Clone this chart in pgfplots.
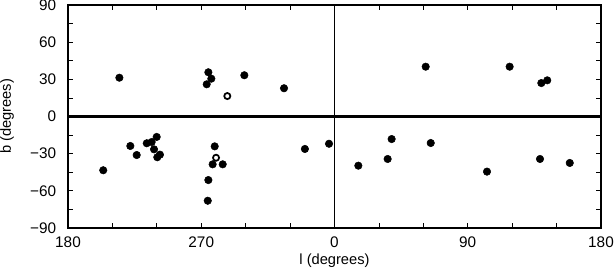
\documentclass[border=0pt]{standalone}
\usepackage{fontspec}
\setmainfont{Liberation Sans}
\usepackage{pgfplots}
\pgfplotsset{compat=1.18}
\begin{document}
\fontsize{11}{13}\selectfont
\begin{tikzpicture}
\begin{axis}[
  scale only axis, width=399.75pt, height=167.25pt,
  xmin=-180, xmax=180, ymin=-90, ymax=90,
  xtick={-180,-90,0,90,180}, xticklabels={180,270,0,90,180},
  minor xtick={-150,-120,-60,-30,30,60,120,150},
  ytick={-90,-60,-30,0,30,60,90}, yticklabels={−90,−60,−30,0,30,60,90},
  minor ytick={-75,-45,-15,15,45,75},
  tick align=inside, major tick length=3.5pt, minor tick length=3.5pt,
  tick style={black, line width=0.6pt},
  axis line style={line width=0.8pt},
  every tick label/.append style={font=\fontsize{11.5}{13}\selectfont},
  xticklabel style={inner sep=0pt, anchor=north, yshift=-6.3pt},
  yticklabel style={inner sep=0pt, anchor=east, xshift=-8.7pt},
  xlabel={l (degrees)}, ylabel={b (degrees)},
  label style={font=\fontsize{11}{13}\selectfont},
  xlabel style={at={(axis description cs:0.5,-0.148)}, anchor=center},
  ylabel style={at={(axis description cs:-0.1144,0.5)}, anchor=center},
  clip=false,
]
\addplot[black, line width=1.7pt, forget plot] coordinates {(-180,0) (180,0)};
\addplot[black, line width=1.1pt, forget plot] coordinates {(0,-90) (0,90)};
\addplot[only marks, mark=*, mark size=2.8pt, mark options={fill=black, draw=black}] coordinates {
 (-145.3,31.3) (-85.2,35.7) (-83.2,30.5) (-86.3,26.0) (-60.9,33.3) (-34.1,22.8)
 (-156.2,-43.4) (-137.9,-23.8) (-133.6,-31.1)
 (-126.8,-21.6) (-123.5,-20.6) (-121.9,-26.5) (-120.1,-16.5) (-117.9,-30.8) (-119.7,-32.9)
 (-80.9,-24.1) (-82.3,-38.6) (-75.5,-38.6) (-85.2,-51.3) (-85.6,-68.0)
 (-20.0,-26.2) (-3.7,-22.0)
 (61.6,40.2) (118.3,40.2) (139.7,27.0) (143.7,29.2)
 (16.1,-39.7) (35.9,-34.3) (38.6,-18.2) (65.0,-21.4) (103.0,-44.5) (138.8,-34.3) (158.9,-37.5)
};
\addplot[only marks, mark=*, mark size=2.3pt, mark options={fill=white, draw=black, line width=1.3pt}] coordinates {
 (-72.4,16.5) (-80.0,-33.3)
};
\end{axis}
\pgfresetboundingbox
\path ([shift={(-51pt,-33pt)}]current axis.south west) rectangle ([shift={(10.5pt,3.75pt)}]current axis.north east);
\end{tikzpicture}
\end{document}
